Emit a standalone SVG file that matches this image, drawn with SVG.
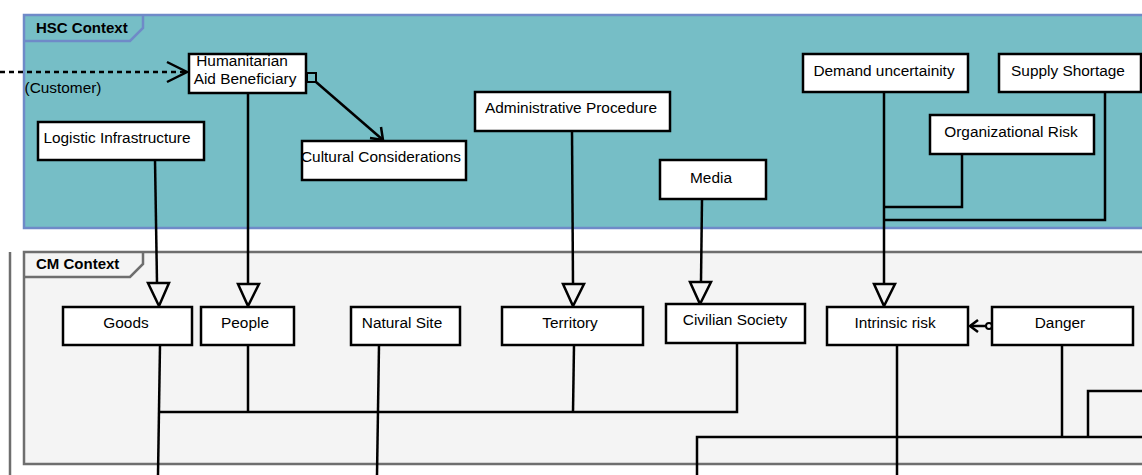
<svg xmlns="http://www.w3.org/2000/svg" width="1142" height="475" viewBox="0 0 1142 475">
<style>
.box{fill:#fff;stroke:#000;stroke-width:2.5}
.t{font-family:"Liberation Sans",Arial,sans-serif;font-size:15.4px;fill:#000;text-anchor:middle}
.tab{font-family:"Liberation Sans",Arial,sans-serif;font-size:15px;font-weight:bold;fill:#000}
.c{fill:none;stroke:#000;stroke-width:2.5}
.tri{fill:none;stroke:#000;stroke-width:2.5;stroke-linejoin:miter}
</style>
<rect width="1142" height="475" fill="#fff"/>
<g id="hsc-context">
<rect x="24" y="15" width="1130" height="213" fill="#76bec6" stroke="#6f8ac8" stroke-width="2.5"/>
<path d="M24 41 H130 L143 28 V15" fill="none" stroke="#6f8ac8" stroke-width="2.5"/>
<text class="tab" x="36" y="33">HSC Context</text>
</g>
<g id="cm-context">
<line x1="10" y1="252" x2="10" y2="475" stroke="#6e6e6e" stroke-width="2.5"/>
<rect x="24" y="252" width="1130" height="212" fill="#f4f4f4" stroke="#6e6e6e" stroke-width="2.5"/>
<path d="M24 277 H130 L143 264 V252" fill="none" stroke="#6e6e6e" stroke-width="2.5"/>
<text class="tab" x="36" y="269">CM Context</text>
</g>
<g id="connectors">
<line x1="0" y1="72" x2="187" y2="72" stroke="#000" stroke-width="2.5" stroke-dasharray="5,4"/>
<path class="c" d="M167 62 L187 72 L167 82"/>
<text class="t" x="63" y="93">(Customer)</text>
<rect x="307" y="73" width="9" height="9" fill="none" stroke="#000" stroke-width="2"/>
<line class="c" x1="316" y1="82" x2="383" y2="140"/>
<path class="c" d="M370 138 L383 140 L381 127"/>
<path class="c" d="M155 160 L157 283"/>
<path class="tri" d="M148 283 H169 L159 306 Z"/>
<path class="c" d="M248 93 V284"/>
<path class="tri" d="M238 284 H259 L248 306 Z"/>
<path class="c" d="M572 131 L573 284"/>
<path class="tri" d="M563 284 H584 L573 306 Z"/>
<path class="c" d="M702 199 L701 282"/>
<path class="tri" d="M690 282 H711 L700 304 Z"/>
<path class="c" d="M884 92 V284"/>
<path class="tri" d="M874 284 H895 L884 306 Z"/>
<path class="c" d="M962 154 V207 H884"/>
<path class="c" d="M1105 92 V220 H884"/>
<path class="c" d="M160 345 L158 475"/>
<path class="c" d="M160 412 H737 V343"/>
<path class="c" d="M248 345 V412"/>
<path class="c" d="M574 345 L573 412"/>
<path class="c" d="M379 345 L377 475"/>
<path class="c" d="M897 345 V475"/>
<path class="c" d="M1062 345 V437"/>
<path class="c" d="M697 475 V437 H1142"/>
<path class="c" d="M1088 437 V391 H1142"/>
<line class="c" x1="970" y1="326" x2="986" y2="326"/>
<circle cx="989" cy="326" r="3" fill="#f4f4f4" stroke="#000" stroke-width="2"/>
<path class="c" d="M978 320 L970 326 L978 332"/>
</g>
<g id="humanitarian">
<rect class="box" x="189" y="54" width="117" height="39"/>
<text class="t" x="242" y="66">Humanitarian</text>
<text class="t" x="245" y="84">Aid Beneficiary</text>
</g>
<g id="logistic">
<rect class="box" x="38" y="122" width="166" height="38"/>
<text class="t" x="117" y="143">Logistic Infrastructure</text>
</g>
<g id="cultural">
<rect class="box" x="302" y="141" width="164" height="39"/>
<text class="t" x="381" y="162">Cultural Considerations</text>
</g>
<g id="administrative">
<rect class="box" x="475" y="92" width="195" height="39"/>
<text class="t" x="571" y="113">Administrative Procedure</text>
</g>
<g id="media">
<rect class="box" x="660" y="160" width="106" height="39"/>
<text class="t" x="711" y="183">Media</text>
</g>
<g id="demand">
<rect class="box" x="803" y="54" width="165" height="38"/>
<text class="t" x="884" y="76">Demand uncertainity</text>
</g>
<g id="supply">
<rect class="box" x="999" y="54" width="142" height="38"/>
<text class="t" x="1068" y="76">Supply Shortage</text>
</g>
<g id="organizational">
<rect class="box" x="930" y="115" width="164" height="39"/>
<text class="t" x="1011" y="137">Organizational Risk</text>
</g>
<g id="goods">
<rect class="box" x="63" y="307" width="129" height="38"/>
<text class="t" x="126" y="328">Goods</text>
</g>
<g id="people">
<rect class="box" x="201" y="307" width="93" height="38"/>
<text class="t" x="245" y="328">People</text>
</g>
<g id="natural-site">
<rect class="box" x="351" y="307" width="109" height="38"/>
<text class="t" x="402" y="328">Natural Site</text>
</g>
<g id="territory">
<rect class="box" x="502" y="307" width="141" height="38"/>
<text class="t" x="570" y="328">Territory</text>
</g>
<g id="civilian">
<rect class="box" x="666" y="304" width="139" height="39"/>
<text class="t" x="735" y="325">Civilian Society</text>
</g>
<g id="intrinsic">
<rect class="box" x="827" y="307" width="141" height="38"/>
<text class="t" x="895" y="328">Intrinsic risk</text>
</g>
<g id="danger">
<rect class="box" x="992" y="307" width="141" height="38"/>
<text class="t" x="1060" y="328">Danger</text>
</g>
</svg>
